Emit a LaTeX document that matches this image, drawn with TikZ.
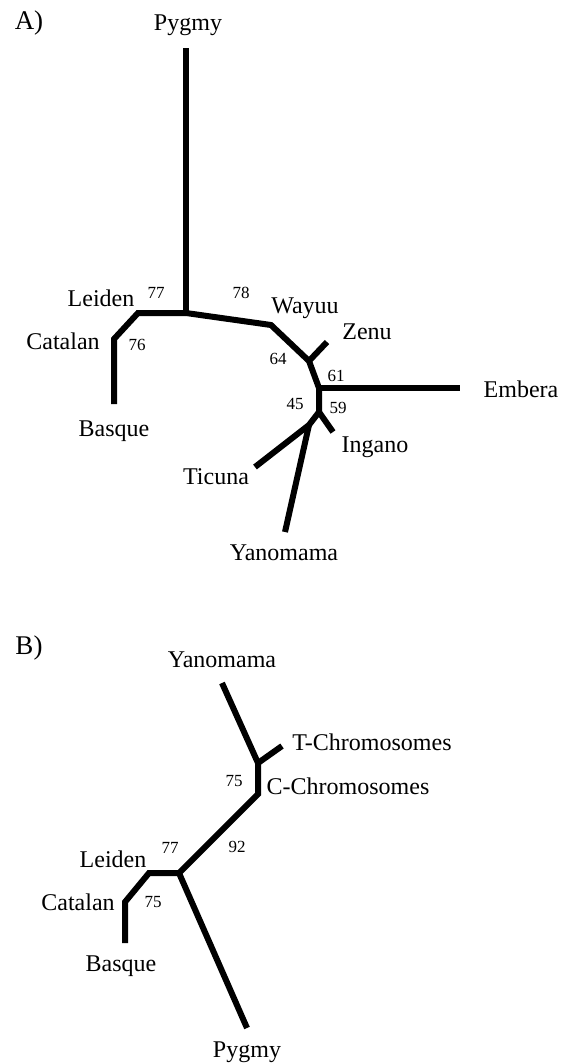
\documentclass[tikz,border=0pt]{standalone}
\usepackage{fontspec}
\setmainfont{Liberation Serif}
\begin{document}
\begin{tikzpicture}[x=1pt,y=-1pt,
  branch/.style={line width=6pt},
  taxon/.style={inner sep=0pt,font=\fontsize{24}{26}\selectfont},
  boot/.style={inner sep=0pt,font=\fontsize{17}{19}\selectfont},
  panel/.style={inner sep=0pt,font=\fontsize{27}{29}\selectfont}]
\useasboundingbox (0,0) rectangle (571,1063);
% ---------- A ----------
\node[panel] (pa) at (29,23) {A)};
\coordinate (aPyg) at (186,48);
\coordinate (aP) at (186,313);
\coordinate (aL) at (138,313);
\coordinate (aC) at (114,339);
\coordinate (aBas) at (114,404);
\coordinate (aW) at (271,325);
\coordinate (aZ) at (309,361);
\coordinate (aZen) at (327,342);
\coordinate (aE) at (319,388);
\coordinate (aEmb) at (460,388);
\coordinate (aJ) at (319,412);
\coordinate (aIng) at (333,432);
\coordinate (aK) at (309,425);
\coordinate (aTic) at (255,467);
\coordinate (aYan) at (285,532);
\draw[branch] (aPyg) -- (aP);
\draw[branch] (aP) -- (aL) -- (aC) -- (aBas);
\draw[branch] (aP) -- (aW) -- (aZ) -- (aE) -- (aJ);
\draw[branch] (aZ) -- (aZen);
\draw[branch] (aE) -- (aEmb);
\draw[branch] (aJ) -- (aIng);
\draw[branch] (aJ) -- (aK) -- (aTic);
\draw[branch] (aK) -- (aYan);
\node[taxon] (tPygA) at (188,25) {Pygmy};
\node[taxon] (tLeiA) at (101,298) {Leiden};
\node[taxon] (tCatA) at (63,341) {Catalan};
\node[taxon] (tBasA) at (114,431) {Basque};
\node[taxon] (tWay) at (305,308) {Wayuu};
\node[taxon] (tZen) at (367,332) {Zenu};
\node[taxon] (tEmb) at (521,389) {Embera};
\node[taxon] (tIng) at (375,447) {Ingano};
\node[taxon] (tTic) at (216,477) {Ticuna};
\node[taxon] (tYanA) at (284,553) {Yanomama};
\node[boot] (b77a) at (156,293) {77};
\node[boot] (b78) at (241,293) {78};
\node[boot] (b76) at (137,345) {76};
\node[boot] (b64) at (278,359) {64};
\node[boot] (b61) at (336,376) {61};
\node[boot] (b59) at (338,408) {59};
\node[boot] (b45) at (295,404) {45};
% ---------- B ----------
\node[panel] (pb) at (29,648) {B)};
\coordinate (bYan) at (222,683);
\coordinate (bT) at (258,763);
\coordinate (bTch) at (282,746);
\coordinate (bC) at (258,794);
\coordinate (bM) at (179,873);
\coordinate (bL) at (149,873);
\coordinate (bCa) at (125,902);
\coordinate (bBas) at (125,943);
\coordinate (bPyg) at (247,1028);
\draw[branch] (bYan) -- (bT) -- (bC) -- (bM) -- (bL) -- (bCa) -- (bBas);
\draw[branch] (bT) -- (bTch);
\draw[branch] (bM) -- (bPyg);
\node[taxon] (tYanB) at (222,660) {Yanomama};
\node[taxon] (tTch) at (372,742) {T-Chromosomes};
\node[taxon] (tCch) at (348,786) {C-Chromosomes};
\node[taxon] (tLeiB) at (113,859) {Leiden};
\node[taxon] (tCatB) at (78,902) {Catalan};
\node[taxon] (tBasB) at (121,966) {Basque};
\node[taxon] (tPygB) at (247,1052) {Pygmy};
\node[boot] (b75t) at (234,781) {75};
\node[boot] (b92) at (237,847) {92};
\node[boot] (b77b) at (170,848) {77};
\node[boot] (b75b) at (153,902) {75};
\end{tikzpicture}
\end{document}
